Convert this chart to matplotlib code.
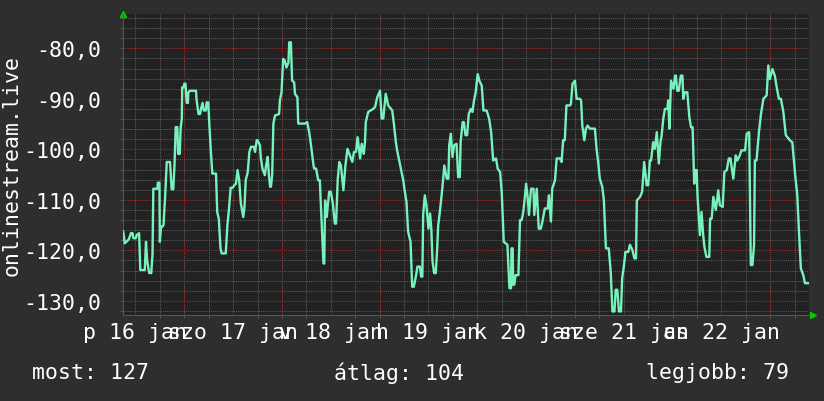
import matplotlib
matplotlib.use("Agg")
import matplotlib.pyplot as plt
from matplotlib.ticker import FixedLocator, MultipleLocator, FuncFormatter

# idő: órák 2015 jan 16 00:00 óta, érték: jelszint
hours = [
    9.0, 9.4, 10.4, 10.9, 11.3, 11.5, 12.1, 12.3, 12.9, 13.2, 14.3, 14.6, 14.9, 15.4, 15.9,
    16.1, 16.2, 16.4, 17.4, 17.5, 17.9, 18.0, 18.3, 18.6, 18.9, 19.3, 19.7, 20.5, 20.9, 21.3,
    21.6, 21.9, 22.3, 22.5, 22.9, 23.1, 23.4, 23.5, 23.9, 24.0, 24.3, 24.6, 24.9, 25.0, 25.4,
    26.9, 27.0, 27.5, 27.9, 28.1, 28.5, 28.8, 29.3, 29.5, 29.9, 30.2, 30.5, 30.9, 31.8, 32.1,
    32.5, 32.9, 33.2, 34.2, 34.6, 35.0, 35.4, 35.9, 36.3, 36.7, 37.1, 37.5, 37.9, 38.5, 38.8,
    39.1, 39.6, 40.0, 40.4, 41.1, 41.4, 41.8,
    42.0, 42.6, 42.8, 43.2, 43.8, 44.1, 44.5, 44.8, 45.1, 45.3, 45.6, 45.9, 46.3, 47.3, 47.5,
    47.9, 48.3, 48.7, 49.1, 49.6, 49.8, 50.2, 50.5, 51.0, 51.2, 51.8, 52.0, 53.7, 54.2, 54.7,
    55.1, 55.7, 55.9, 56.4, 56.9, 57.3, 57.8, 58.2, 58.4, 58.6, 59.0, 59.6, 60.0, 60.5, 61.0,
    61.3, 61.7, 62.1, 62.5, 63.1, 63.6, 64.1, 64.7, 65.3, 65.7, 66.2, 66.6, 67.2, 67.6, 68.1,
    68.4, 68.6, 69.2, 70.4, 70.9, 71.4, 72.1, 72.5, 72.9, 73.5, 74.1, 75.1,
    75.5, 76.0, 76.3, 76.8, 77.4, 77.8, 78.2, 78.6, 79.0, 79.6, 80.0, 80.4, 80.9, 81.3, 81.9,
    82.2, 82.5, 82.7, 83.1, 83.5, 84.0, 84.4, 84.7, 85.0, 85.4, 85.8, 86.1, 86.4, 86.8, 87.4,
    87.9, 88.5, 88.9, 89.1, 89.5, 89.9, 90.3, 90.9, 91.3, 91.7, 91.9, 92.4, 92.7, 93.1, 93.5,
    93.9, 94.4, 94.8, 95.2, 95.6, 96.1, 96.5, 97.1, 97.5, 98.3, 98.9, 99.4, 99.9, 100.6, 101.0,
    101.6, 102.0, 102.5, 103.4, 103.9, 104.3, 104.4, 104.7, 104.8, 105.1, 105.4, 106.1, 106.5,
    106.9, 107.3, 107.7,
    108.0, 108.4, 108.7, 109.2, 109.8, 110.0, 110.6, 111.1, 111.6, 112.0, 112.6, 113.3, 113.6,
    114.1, 114.4, 115.1, 115.5, 116.3, 116.7, 117.1, 117.5, 117.9, 118.8, 119.0, 119.4, 120.0,
    120.4, 121.2, 121.5, 121.8, 122.3, 122.7, 123.1, 123.7, 124.9, 125.3, 125.7, 126.1, 126.7,
    127.1, 127.6, 128.3, 128.8, 129.2, 129.7, 130.0, 130.4, 130.8, 131.3, 131.6, 132.0, 132.4,
    133.1, 133.5, 134.1, 134.6, 135.0, 135.2, 136.0, 136.5, 137.0, 137.6, 138.0, 138.4, 138.7,
    139.2, 139.6, 140.1, 140.6, 141.0,
    141.3, 141.7, 142.1, 142.7, 142.9, 143.2, 143.6, 144.2, 144.6, 144.8, 145.1, 145.5, 146.0,
    146.4, 146.6, 147.0, 147.6, 148.1, 148.5, 148.9, 149.3, 149.6, 149.9, 150.1, 150.7, 151.1,
    151.5, 151.8, 152.3, 153.0, 153.2, 153.6, 154.0, 154.6, 155.2, 155.6, 156.3, 156.7, 157.3,
    157.8, 158.2, 158.9, 159.5, 159.9, 160.5, 160.9, 161.8, 162.2, 162.8, 163.2, 163.6, 164.0,
    164.2, 164.6, 165.2, 165.7, 166.3, 167.1, 167.5, 167.9, 168.5, 169.1, 169.5, 170.1, 170.6,
    171.2, 171.8, 172.8, 173.4, 174.1, 174.6, 175.1, 175.5, 176.1, 176.5, 177.3,
]
values = [
    -116.3, -118.6, -117.8, -116.6, -116.6, -117.6, -117.6, -117.0, -116.6, -123.9, -123.9, -118.3, -122.2, -124.5, -124.5,
    -122.2, -120.8, -107.8, -107.8, -106.6, -106.6, -118.3, -115.3, -115.3, -115.0, -109.4, -102.5, -102.5, -107.9, -107.9,
    -103.2, -95.6, -95.6, -100.9, -100.9, -95.9, -93.9, -87.7, -87.7, -87.0, -87.0, -90.8, -90.8, -88.7, -88.4,
    -88.4, -90.0, -93.0, -93.0, -92.0, -90.8, -92.3, -92.3, -90.7, -90.7, -95.6, -99.9, -104.8, -104.8, -112.4,
    -113.8, -119.6, -120.6, -120.6, -115.0, -111.7, -107.6, -107.6, -107.1, -106.8, -104.1, -106.1, -110.7, -113.4, -111.4,
    -106.1, -104.5, -100.5, -99.5, -99.5, -100.5, -98.2,
    -98.2, -99.2, -101.5, -103.8, -105.1, -103.2, -101.5, -105.1, -107.4, -107.4, -105.1, -94.9, -93.3, -93.0, -90.3,
    -88.7, -82.1, -82.4, -83.8, -82.8, -78.8, -78.8, -86.4, -86.7, -89.0, -89.7, -94.9, -94.9, -94.6, -96.6,
    -98.9, -102.8, -103.8, -103.8, -106.1, -106.1, -115.0, -122.6, -122.6, -110.1, -113.4, -108.4, -108.4, -110.7, -114.7,
    -114.7, -106.1, -102.5, -103.2, -108.1, -103.2, -99.9, -101.2, -102.5, -100.5, -100.5, -97.6, -101.8, -98.9, -100.9,
    -98.6, -94.6, -92.6, -92.0, -91.6, -89.7, -88.4, -93.9, -93.9, -89.0, -91.3, -92.3,
    -94.9, -98.6, -100.2, -102.2, -104.5, -106.1, -108.4, -110.4, -116.3, -118.3, -127.2, -127.2, -125.2, -123.2, -123.2,
    -125.2, -125.2, -113.0, -109.1, -111.1, -115.7, -112.7, -115.7, -122.2, -124.5, -124.5, -120.3, -115.0, -112.4, -107.8,
    -103.2, -105.8, -105.8, -99.2, -96.9, -101.5, -99.2, -98.9, -105.5, -105.5, -98.6, -94.6, -94.6, -97.2, -97.2,
    -93.0, -92.0, -92.6, -90.3, -88.7, -85.1, -86.4, -87.4, -92.3, -92.3, -93.9, -96.6, -102.2, -101.8, -103.8,
    -104.5, -108.4, -118.3, -118.9, -127.5, -127.5, -119.6, -119.6, -126.8, -126.8, -124.9, -124.9, -114.0,
    -114.0, -112.4, -109.4,
    -106.8, -109.7, -113.0, -107.8, -107.8, -113.0, -107.8, -115.7, -115.7, -114.3, -111.7, -111.7, -109.1,
    -114.3, -107.8, -106.1, -101.8, -101.8, -102.5, -98.2, -98.2, -91.3, -91.3, -91.0, -87.0, -86.4,
    -90.0, -90.0, -90.3, -95.3, -98.2, -95.9, -95.3, -95.9, -95.9, -99.9, -102.5, -105.8, -107.4,
    -110.1, -119.6, -119.6, -124.5, -132.1, -132.1, -127.8, -127.8, -132.1, -132.1, -125.5, -123.2, -120.3,
    -120.3, -118.9, -119.9, -121.6, -121.6, -110.1, -109.4, -108.4, -102.5, -107.1, -107.1, -102.2, -102.2,
    -98.6, -99.9, -96.6, -102.8, -98.6,
    -97.2, -93.9, -92.0, -92.0, -90.3, -95.9, -86.4, -88.0, -85.4, -85.4, -88.4, -88.4, -85.4,
    -85.4, -90.0, -88.7, -88.7, -93.6, -95.6, -95.6, -106.8, -104.1, -104.1, -109.1, -117.0, -112.4,
    -117.0, -119.3, -121.3, -121.3, -113.7, -113.7, -109.4, -112.0, -108.1, -111.1, -111.4, -104.5, -104.1,
    -101.8, -101.8, -105.8, -101.2, -102.2, -101.2, -100.2, -100.2, -96.9, -96.6, -122.9, -122.9, -118.9,
    -102.2, -102.2, -96.6, -93.0, -90.0, -89.3, -83.4, -86.1, -84.1, -85.4, -87.4, -90.0, -90.0,
    -92.6, -97.2, -98.2, -98.6, -105.1, -108.8, -117.3, -123.6, -124.9, -126.5, -126.5,
]

day_noons = [12, 36, 60, 84, 108, 132, 156]
day_labels = ["p 16 jan", "szo 17 jan", "v 18 jan", "h 19 jan", "k 20 jan", "sze 21 jan", "cs 22 jan"]
midnights = [24, 48, 72, 96, 120, 144, 168]
y_ticks = [-130, -120, -110, -100, -90, -80]
series_name = "onlinestream.live"
stats = ["most: 127", "átlag: 104", "legjobb: 79"]

bg = "#2e2e2e"
canvas = "#222222"
line_col = "#78f2bd"
mono = "DejaVu Sans Mono"

fig = plt.figure(figsize=(8.24, 4.02), dpi=100, facecolor=bg)
W, H = 824, 402
ax = fig.add_axes([123 / W, (H - 316) / H, 686 / W, (316 - 15) / H])
ax.set_facecolor(canvas)

ax.set_xlim(8.95, 177.5)
ax.set_ylim(-132.8, -73.2)

# rács
ax.yaxis.set_major_locator(FixedLocator(y_ticks))
ax.yaxis.set_minor_locator(MultipleLocator(2))
ax.xaxis.set_major_locator(FixedLocator(day_noons))
ax.xaxis.set_minor_locator(MultipleLocator(6))
ax.set_xticklabels(day_labels)
ax.yaxis.set_major_formatter(FuncFormatter(lambda v, p: f"{v:.1f}".replace(".", ",")))

ax.grid(which="minor", color="#5a5a5a", linestyle=(0, (1, 1)), linewidth=0.75)
ax.grid(which="major", axis="x", color="#5a5a5a", linestyle=(0, (1, 1)), linewidth=0.75)
ax.grid(which="major", axis="y", color="#8a3030", linestyle=(0, (1, 1)), linewidth=0.75)
for m in midnights:
    ax.axvline(m, color="#8a3030", linestyle=(0, (1, 1)), linewidth=0.75, zorder=1)
ax.set_axisbelow(True)

ax.plot(hours, values, color=line_col, linewidth=1.7, zorder=3)

for s in ax.spines.values():
    s.set_visible(False)
ax.spines["bottom"].set_visible(True)
ax.spines["bottom"].set_color("#555555")
ax.spines["left"].set_visible(True)
ax.spines["left"].set_color("#555555")

ax.tick_params(axis="both", which="both", colors="#555555", length=2, width=0.75)
ax.tick_params(axis="x", which="major", length=0, pad=5, labelcolor="white", labelsize=15.5)
ax.tick_params(axis="y", which="major", pad=14, labelcolor="white", labelsize=15.5)
for lab in ax.get_xticklabels() + ax.get_yticklabels():
    lab.set_family(mono)

ax.set_ylabel(series_name, family=mono, fontsize=15.5, color="white")
ax.yaxis.set_label_coords(-(123 - 22) / 686, 0.5)

# nyilak
ax.plot([0], [1], marker="^", color="#00cc00", markersize=5, transform=ax.transAxes, clip_on=False)
ax.plot([1.006], [0], marker=">", color="#00cc00", markersize=5, transform=ax.transAxes, clip_on=False)

fig.text(32 / W, 1 - 373 / H, stats[0], family=mono, fontsize=15.5, color="white", va="center", ha="left")
fig.text(334 / W, 1 - 373 / H, stats[1], family=mono, fontsize=15.5, color="white", va="center", ha="left")
fig.text(789 / W, 1 - 373 / H, stats[2], family=mono, fontsize=15.5, color="white", va="center", ha="right")

fig.savefig("out.png", dpi=100, facecolor=bg)
